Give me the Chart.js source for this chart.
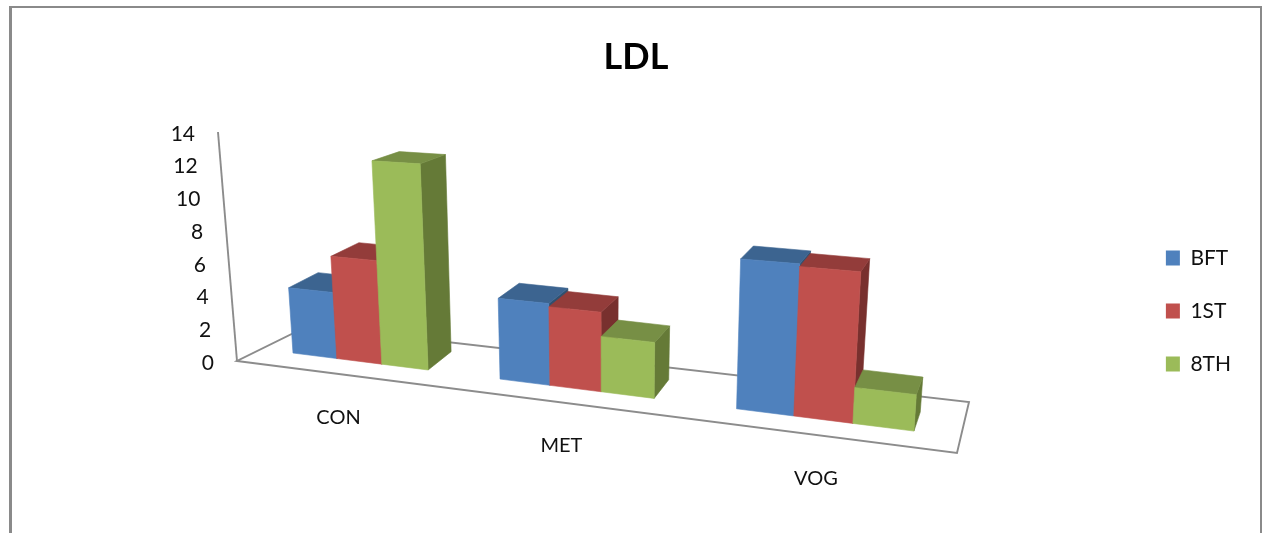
<!DOCTYPE html>
<html>
<head>
<meta charset="utf-8">
<title>LDL</title>
<script src="https://cdn.jsdelivr.net/npm/chart.js@4"></script>
<style>
  html, body { margin: 0; padding: 0; background: #fff; overflow: hidden; }
  canvas { display: block; }
</style>
</head>
<body>
<canvas id="grafico" width="1262" height="533"></canvas>
<script>
// data
const categories = ["CON", "MET", "VOG"];
const bft = [4.3, 5.0, 8.6];
const first = [6.6, 4.8, 8.45];
const eighth = [12.7, 3.35, 2.05];
const yMax = 14;
const yStep = 2;

const FONT = "Lato, Carlito, sans-serif";

// screen corners of the tilted box: bl, br, tr, tl
const frontPlane = [[261, 349], [961, 437], [981, 173], [245, 132]];
const backPlane = [[291, 331], [966, 418], [987, 164], [278, 124]];
const floorEdge = [[237, 361], [957, 453], [969, 402], [308, 326]];
const axisEdge = [[237, 361], [218, 132]];

const faces = [
  { front: "#4f81bd", top: "#3c6490", side: "#30506f" },
  { front: "#c0504d", top: "#933c3a", side: "#78302e" },
  { front: "#9bbb59", top: "#778f45", side: "#657a37" }
];

// unit square -> quad, plain projective map
function quadMap(q) {
  const [[x0, y0], [x1, y1], [x2, y2], [x3, y3]] = q;
  const dx1 = x1 - x2, dx2 = x3 - x2, sx = x0 - x1 + x2 - x3;
  const dy1 = y1 - y2, dy2 = y3 - y2, sy = y0 - y1 + y2 - y3;
  const den = dx1 * dy2 - dx2 * dy1;
  const g = (sx * dy2 - dx2 * sy) / den;
  const h = (dx1 * sy - sx * dy1) / den;
  const a = x1 - x0 + g * x1, b = x3 - x0 + h * x3;
  const d = y1 - y0 + g * y1, e = y3 - y0 + h * y3;
  return (u, w) => {
    const k = g * u + h * w + 1;
    return [(a * u + b * w + x0) / k, (d * u + e * w + y0) / k];
  };
}

const toFront = quadMap(frontPlane);
const toBack = quadMap(backPlane);

function poly(ctx, pts, color) {
  ctx.beginPath();
  pts.forEach((p, i) => (i ? ctx.lineTo(p[0], p[1]) : ctx.moveTo(p[0], p[1])));
  ctx.closePath();
  ctx.fillStyle = color;
  ctx.fill();
  // same colour stroke closes the seams between faces
  ctx.strokeStyle = color;
  ctx.lineWidth = 0.6;
  ctx.stroke();
}

function line(ctx, pts, closed) {
  ctx.beginPath();
  pts.forEach((p, i) => (i ? ctx.lineTo(p[0], p[1]) : ctx.moveTo(p[0], p[1])));
  if (closed) ctx.closePath();
  ctx.strokeStyle = "#8c8c8c";
  ctx.lineWidth = 1.9;
  ctx.stroke();
}

// draws the bars as boxes, using the positions Chart.js worked out
const caixas = {
  id: "caixas",

  beforeDraw(chart) {
    const { ctx, width, height } = chart;
    ctx.save();
    ctx.fillStyle = "#fff";
    ctx.fillRect(0, 0, width, height);
    ctx.fillStyle = "#8a8a8a";
    ctx.fillRect(9, 6, width - 9, 2);
    ctx.fillRect(9, 6, 3, height - 6);
    ctx.fillRect(width - 2, 6, 2, height - 6);
    ctx.restore();
  },

  beforeDatasetsDraw(chart) {
    const { ctx, chartArea: area, scales } = chart;
    ctx.save();

    line(ctx, floorEdge, true);
    line(ctx, axisEdge, false);

    // y tick labels run along the leaning axis
    ctx.font = "21px " + FONT;
    ctx.fillStyle = "#111";
    ctx.textAlign = "right";
    ctx.textBaseline = "middle";
    scales.y.ticks.forEach(t => {
      const w = (area.bottom - scales.y.getPixelForValue(t.value)) / area.height;
      const x = axisEdge[0][0] + (axisEdge[1][0] - axisEdge[0][0]) * w;
      const y = axisEdge[0][1] + (axisEdge[1][1] - axisEdge[0][1]) * w;
      ctx.fillText(String(t.value), x - 23, y + 2);
    });

    // category labels sit in front of the floor
    ctx.textAlign = "center";
    ctx.font = "20px " + FONT;
    categories.forEach((c, i) => {
      const u = (scales.x.getPixelForTick(i) - area.left) / area.width;
      const f = toFront(u, 0), b = toBack(u, 0);
      ctx.fillText(c, f[0] - (b[0] - f[0]) * 0.8, f[1] - (b[1] - f[1]) * 0.8 + 41 + u * 3);
    });

    categories.forEach((c, i) => {
      chart.data.datasets.forEach((ds, s) => {
        const el = chart.getDatasetMeta(s).data[i];
        const u0 = (el.x - el.width / 2 - area.left) / area.width;
        const u1 = (el.x + el.width / 2 - area.left) / area.width;
        const w = (area.bottom - el.y) / area.height;
        const cor = faces[s];

        poly(ctx, [toFront(u1, 0), toBack(u1, 0), toBack(u1, w), toFront(u1, w)], cor.side);
        poly(ctx, [toFront(u0, w), toFront(u1, w), toBack(u1, w), toBack(u0, w)], cor.top);
        poly(ctx, [toFront(u0, 0), toFront(u1, 0), toFront(u1, w), toFront(u0, w)], cor.front);
      });
    });

    ctx.restore();
    return false; // boxes replace the flat bars
  }
};

new Chart(document.getElementById("grafico"), {
  type: "bar",
  data: {
    labels: categories,
    datasets: [
      { label: "BFT", data: bft, backgroundColor: faces[0].front },
      { label: "1ST", data: first, backgroundColor: faces[1].front },
      { label: "8TH", data: eighth, backgroundColor: faces[2].front }
    ]
  },
  options: {
    responsive: false,
    animation: false,
    layout: { padding: { left: 31, right: 21, top: 0, bottom: 0 } },
    datasets: { bar: { categoryPercentage: 0.667, barPercentage: 1 } },
    scales: {
      x: { display: false },
      y: { display: false, min: 0, max: yMax, ticks: { stepSize: yStep } }
    },
    plugins: {
      title: {
        display: true,
        text: "LDL",
        color: "#000",
        font: { family: FONT, size: 36, weight: "bold" },
        padding: { top: 36, bottom: 10 }
      },
      legend: {
        position: "right",
        fullSize: false,
        labels: {
          boxWidth: 14,
          boxHeight: 15,
          padding: 32,
          color: "#111",
          font: { family: FONT, size: 21 }
        }
      },
      tooltip: { enabled: false }
    }
  },
  plugins: [caixas]
});
</script>
</body>
</html>
